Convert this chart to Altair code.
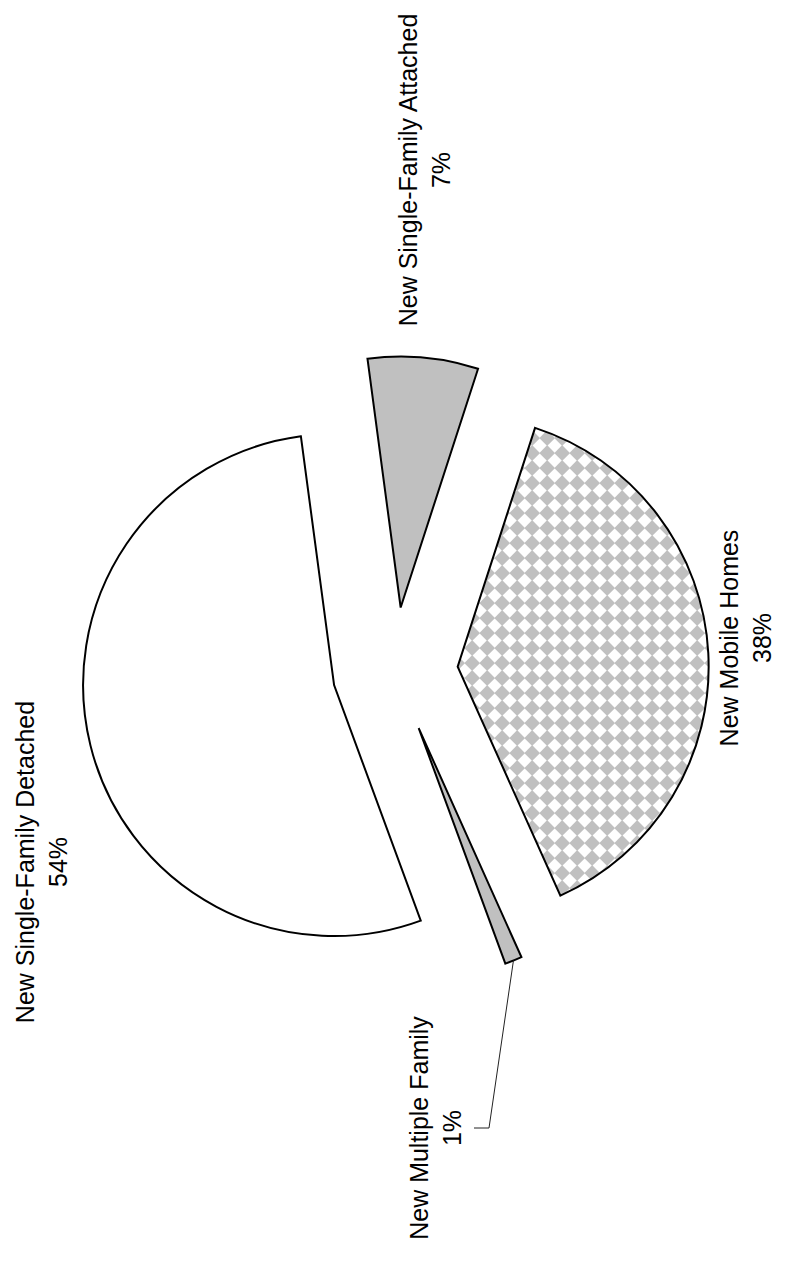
import math
import altair as alt
import pandas as pd

# ---------------- data ----------------
categories = ["New Single-Family Attached", "New Mobile Homes",
              "New Multiple Family", "New Single-Family Detached"]
shares = [7.1, 38.3, 1.1, 53.5]
pct_labels = ["7%", "38%", "1%", "54%"]

# ---------------- style / layout ----------------
fills = ["#c0c0c0", "#c0c0c0", "#c0c0c0", "#ffffff"]
W, H = 771, 1246          # plot area (page minus 8px margins)
R = 251                   # pie radius in px
CX, CY = 387, 662         # pie centre in plot px
EXPLODE = 0.25            # explode distance in radius units
START_DEG = -7.6          # angle where the first slice starts
FONT = "Liberation Sans"
FS = 25
LH = 33
# first-line anchors of the labels relative to the pie centre, px (x right, y down)
label_offsets = [(14, -500), (335, -32), (25, 458), (-369, 192)]
leader_label_side = [(79, 458), (94, 458)]   # start + elbow of the 1% leader

ux = 1.0 / R
xs = alt.Scale(domain=[-CX * ux, (W - CX) * ux], nice=False, zero=False)
ys = alt.Scale(domain=[-(H - CY) * ux, CY * ux], nice=False, zero=False)

tot = sum(shares)
t = math.radians(START_DEG)
rows = []
for cat, v, pct, (lx, ly) in zip(categories, shares, pct_labels, label_offsets):
    span = v / tot * 2 * math.pi
    t0, t1 = t, t + span
    mid = (t0 + t1) / 2
    rows.append(dict(cat=cat, t0=t0, t1=t1, mid=mid,
                     cx=EXPLODE * math.sin(mid), cy=EXPLODE * math.cos(mid),
                     lx=lx * ux, ly=-ly * ux, txt=cat + "\n" + pct))
    t = t1
df = pd.DataFrame(rows)

color = alt.Color("cat:N", scale=alt.Scale(domain=categories, range=fills), legend=None)
X = alt.X("cx:Q", scale=xs, axis=None)
Y = alt.Y("cy:Q", scale=ys, axis=None)
TH = alt.Theta("t0:Q", scale=None, stack=False)
TH2 = alt.Theta2("t1")

base = alt.Chart(df)
fill_layer = base.mark_arc(radius=R, strokeWidth=0).encode(x=X, y=Y, theta=TH, theta2=TH2, color=color)
stroke_layer = base.mark_arc(radius=R, fillOpacity=0, stroke="black", strokeWidth=2,
                             strokeJoin="miter").encode(x=X, y=Y, theta=TH, theta2=TH2)

# checker texture for the mobile homes slice
mob = rows[1]
ax, ay, a0, a1 = mob["cx"], mob["cy"], mob["t0"], mob["t1"]
step = 15 * ux
m = 8 * ux
NI, NJ = 22, 40
x0, y0 = ax - m, ay - 1 - m
tex = (alt.Chart(alt.sequence(0, NI * NJ, as_="s"))
       .transform_calculate(i=f"floor(datum.s / {NJ})", j=f"datum.s % {NJ}")
       .transform_calculate(px=f"{x0} + datum.i * {step}", py=f"{y0} + datum.j * {step}")
       .transform_calculate(dx=f"datum.px - {ax}", dy=f"datum.py - {ay}")
       .transform_filter(
           f"datum.dx * {math.cos(a0)} - datum.dy * {math.sin(a0)} >= {-m} && "
           f"-datum.dx * {math.cos(a1)} + datum.dy * {math.sin(a1)} >= {-m} && "
           f"datum.dx * datum.dx + datum.dy * datum.dy <= {(1 + m) ** 2}")
       .mark_point(shape="diamond", filled=True, size=200, color="white", opacity=1, strokeWidth=0)
       .encode(x=alt.X("px:Q", scale=xs, axis=None), y=alt.Y("py:Q", scale=ys, axis=None)))

# leader line for the 1% slice
mu = rows[2]
tip = (mu["cx"] + math.sin(mu["mid"]), mu["cy"] + math.cos(mu["mid"]))
ldf = pd.DataFrame({
    "o": [0, 1, 2],
    "x": [leader_label_side[0][0] * ux, leader_label_side[1][0] * ux, tip[0]],
    "y": [-leader_label_side[0][1] * ux, -leader_label_side[1][1] * ux, tip[1]],
})
leader = alt.Chart(ldf).mark_line(color="#222222", strokeWidth=1).encode(
    x=alt.X("x:Q", scale=xs, axis=None), y=alt.Y("y:Q", scale=ys, axis=None), order="o:Q")

labels = base.mark_text(angle=270, align="center", baseline="middle", lineBreak="\n",
                        lineHeight=LH, font=FONT, fontSize=FS, color="black").encode(
    x=alt.X("lx:Q", scale=xs, axis=None), y=alt.Y("ly:Q", scale=ys, axis=None), text="txt:N")

chart = alt.layer(fill_layer, tex, stroke_layer, leader, labels).properties(
    width=W, height=H, padding=0, autosize="none"
).configure_view(strokeWidth=0)

chart.save("out.html", embed_options={"renderer": "svg", "actions": False})
